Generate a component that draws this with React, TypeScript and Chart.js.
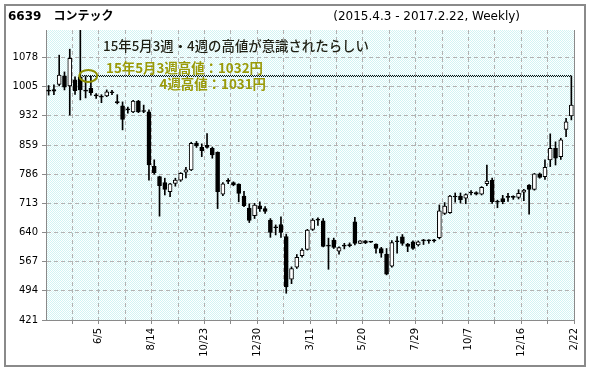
import React, { useEffect, useRef } from 'react';
import { Chart, registerables } from 'chart.js';

Chart.register(...registerables);

// ---- texts ----
const TITLE = '6639　コンテック';
const PERIOD = '(2015.4.3 - 2017.2.22, Weekly)';
const NOTE_MAIN = '15年5月3週・4週の高値が意識されたらしい';
const NOTE_HIGH3 = '15年5月3週高値：1032円';
const NOTE_HIGH4 = '4週高値：1031円';
const RESIST_PRICE = 1032;
const RESIST_WEEK_A = 7; // 5月3週
const RESIST_WEEK_B = 8; // 5月4週

// ---- weekly OHLC (index 0 = 2015/4/3 week ... 99 = 2017/2/22 week) ----
const opens = [
  996, 998, 1011, 1032, 1007, 1022, 1030, 996, 1001, 984,
  980, 982, 991, 966, 957, 948, 942, 969, 944, 942,
  806, 780, 765, 742, 763, 771, 791, 797, 864, 853,
  858, 851, 841, 736, 769, 765, 761, 731, 701, 682,
  707, 700, 671, 654, 660, 630, 523, 553, 582, 598,
  648, 672, 669, 607, 621, 593, 607, 610, 667, 613,
  619, 617, 611, 600, 586, 556, 618, 629, 611, 617,
  609, 620, 620, 620, 627, 688, 690, 730, 731, 726,
  740, 740, 736, 762, 771, 717, 725, 729, 729, 728,
  741, 759, 748, 787, 780, 822, 851, 830, 898, 932,
];
const highs = [
  1008, 1010, 1084, 1042, 1099, 1030, 1180, 1032, 1031, 988,
  985, 997, 996, 985, 967, 954, 971, 971, 959, 947,
  822, 781, 776, 763, 776, 790, 803, 866, 868, 862,
  888, 854, 842, 765, 775, 767, 762, 743, 712, 713,
  717, 705, 675, 659, 679, 636, 554, 585, 600, 648,
  675, 677, 675, 626, 626, 604, 613, 614, 678, 620,
  620, 618, 612, 603, 600, 620, 630, 635, 613, 619,
  619, 623, 622, 623, 709, 715, 733, 739, 739, 737,
  745, 742, 755, 809, 776, 721, 733, 738, 732, 747,
  748, 760, 788, 789, 822, 887, 867, 876, 926, 1032,
];
const lows = [
  984, 985, 1007, 997, 934, 986, 972, 977, 984, 976,
  965, 980, 985, 962, 897, 939, 940, 940, 940, 771,
  786, 681, 734, 730, 756, 768, 777, 795, 853, 830,
  851, 826, 700, 732, 762, 757, 717, 705, 665, 675,
  693, 688, 628, 634, 628, 488, 512, 550, 578, 596,
  645, 658, 604, 548, 600, 586, 599, 604, 609, 612,
  612, 615, 588, 578, 534, 553, 588, 608, 592, 598,
  606, 610, 613, 616, 624, 685, 688, 716, 714, 712,
  734, 734, 734, 757, 713, 702, 712, 718, 723, 724,
  720, 686, 746, 776, 773, 805, 809, 823, 880, 922,
];
const closes = [
  994, 994, 1034, 1004, 1076, 995, 997, 994, 990, 982,
  979, 992, 990, 965, 923, 947, 969, 942, 943, 809,
  790, 757, 748, 762, 771, 788, 797, 863, 857, 845,
  853, 834, 742, 762, 768, 759, 738, 707, 670, 709,
  699, 693, 640, 652, 640, 504, 550, 578, 596, 646,
  671, 671, 605, 606, 603, 602, 606, 607, 613, 619,
  614, 616, 600, 588, 536, 615, 617, 613, 605, 600,
  617, 619, 619, 619, 694, 706, 731, 729, 722, 735,
  739, 736, 753, 769, 717, 716, 717, 728, 728, 738,
  746, 748, 787, 778, 803, 851, 826, 872, 917, 959,
];

// ---- axis ticks ----
const dateLabels = ['6/5', '8/14', '10/23', '12/30', '3/11', '5/20', '7/29', '10/7', '12/16', '2/22'];
const dateLabelWeeks = [9, 19, 29, 39, 49, 59, 69, 79, 89, 99];
const gridWeeks = [4, 9, 14, 19, 24, 29, 34, 39, 44, 49, 54, 59, 64, 69, 74, 79, 84, 89, 94, 99];
const yTicks = [421, 494, 567, 640, 713, 786, 859, 932, 1005, 1078];
const Y_MIN = 421;
const Y_MAX = 1147;

const FONT = '"DejaVu Sans", Verdana, "Noto Sans CJK JP", sans-serif';
const JP_FONT = '"Noto Sans CJK JP", "DejaVu Sans", sans-serif';

const decorPlugin = {
  id: 'decor',
  beforeDraw(chart: any) {
    const { ctx, chartArea: a } = chart;
    ctx.save();
    ctx.fillStyle = '#ffffff';
    ctx.fillRect(0, 0, chart.width, chart.height);
    const pc = document.createElement('canvas');
    pc.width = 2;
    pc.height = 2;
    const p = pc.getContext('2d')!;
    p.fillStyle = '#ffffff';
    p.fillRect(0, 0, 2, 2);
    p.fillStyle = '#d2f4f4';
    p.fillRect(0, 0, 1, 1);
    p.fillRect(1, 1, 1, 1);
    ctx.fillStyle = ctx.createPattern(pc, 'repeat');
    ctx.fillRect(a.left, a.top, a.right - a.left, a.bottom - a.top);
    ctx.restore();
  },
  afterDatasetsDraw(chart: any) {
    const { ctx, chartArea: a } = chart;
    const xs = chart.scales.x;
    const ys = chart.scales.y;
    ctx.save();
    // dotted resistance line
    const yy = Math.round(ys.getPixelForValue(RESIST_PRICE));
    const x0 = Math.round(xs.getPixelForValue(RESIST_WEEK_A - 0.6));
    const x1 = Math.round(xs.getPixelForValue(99));
    ctx.fillStyle = '#111';
    for (let x = x0; x < x1; x++) {
      ctx.fillRect(x, yy - 1 + (x % 2), 1, 1);
    }
    // ellipse
    ctx.strokeStyle = '#8e8e00';
    ctx.lineWidth = 2;
    ctx.beginPath();
    ctx.ellipse(
      xs.getPixelForValue((RESIST_WEEK_A + RESIST_WEEK_B) / 2),
      ys.getPixelForValue(RESIST_PRICE),
      9, 6, 0, 0, Math.PI * 2
    );
    ctx.stroke();
    // notes
    ctx.textBaseline = 'middle';
    ctx.textAlign = 'left';
    ctx.font = '500 13.4px ' + JP_FONT;
    ctx.fillStyle = '#1e1e12';
    ctx.fillText(NOTE_MAIN, 103, 45.5);
    ctx.font = 'bold 13.4px ' + JP_FONT;
    ctx.fillStyle = '#9a9a08';
    ctx.fillText(NOTE_HIGH3, 106, 67.5);
    ctx.textAlign = 'right';
    ctx.fillText(NOTE_HIGH4, 266, 83.5);
    // right border of plot
    ctx.strokeStyle = '#8a8a8a';
    ctx.lineWidth = 1;
    ctx.beginPath();
    ctx.moveTo(a.right + 0.5, a.top);
    ctx.lineTo(a.right + 0.5, a.bottom);
    ctx.stroke();
    ctx.restore();
  },
  afterDraw(chart: any) {
    const { ctx } = chart;
    ctx.save();
    ctx.strokeStyle = '#8a8a8a';
    ctx.lineWidth = 2;
    ctx.strokeRect(5, 5, 580, 361);
    ctx.fillStyle = '#000';
    ctx.textBaseline = 'alphabetic';
    ctx.textAlign = 'left';
    ctx.font = 'bold 12px ' + FONT;
    ctx.fillText(TITLE, 8, 20);
    ctx.font = '12px ' + FONT;
    ctx.textAlign = 'right';
    ctx.fillText(PERIOD, 520, 20);
    ctx.restore();
  },
};

export default function App() {
  const ref = useRef<HTMLCanvasElement | null>(null);
  useEffect(() => {
    if (!ref.current) return;
    const wicks = highs.map((h, i) => ({ x: i, y: [lows[i], h] }));
    const bodies = opens.map((o, i) => ({ x: i, y: [o, closes[i]] }));
    const bodyColors = opens.map((o, i) => (closes[i] - o >= 3 ? '#ffffff' : '#000000'));
    const gridStyle = {
      color: '#b2b2b2',
      tickColor: '#8a8a8a',
      tickLength: 4,
      lineWidth: 1,
      offset: false,
    };
    const chart = new Chart(ref.current, {
      type: 'bar',
      data: {
        datasets: [
          {
            label: 'wick',
            data: wicks as any,
            backgroundColor: '#000',
            barThickness: 1,
            grouped: false,
            order: 2,
          } as any,
          {
            label: 'body',
            data: bodies as any,
            backgroundColor: bodyColors,
            borderColor: '#000',
            borderWidth: 1,
            borderSkipped: false,
            barThickness: 4,
            minBarLength: 1,
            grouped: false,
            order: 1,
          } as any,
        ],
      },
      options: {
        animation: false,
        responsive: false,
        devicePixelRatio: 1,
        layout: { padding: { left: 0, top: 30, right: 12, bottom: 0 } },
        plugins: { legend: { display: false }, tooltip: { enabled: false }, title: { display: false } },
        scales: {
          x: {
            type: 'linear',
            min: -0.5,
            max: 99.5,
            offset: false,
            afterBuildTicks: (s: any) => {
              s.ticks = gridWeeks.map((w) => ({ value: w + 0.5 }));
            },
            afterFit: (s: any) => {
              s.height = 51;
            },
            ticks: {
              autoSkip: false,
              maxRotation: 90,
              minRotation: 90,
              padding: 4,
              color: '#000',
              font: { family: FONT, size: 10 },
              callback: (v: any) => {
                const k = dateLabelWeeks.indexOf(Math.round(Number(v) - 0.5));
                return k >= 0 ? dateLabels[k] : '';
              },
            },
            grid: gridStyle,
            border: { color: '#8a8a8a', width: 1, dash: [4, 3] },
          },
          y: {
            type: 'linear',
            min: Y_MIN,
            max: Y_MAX,
            beginAtZero: false,
            afterBuildTicks: (s: any) => {
              s.ticks = yTicks.map((v) => ({ value: v }));
            },
            afterFit: (s: any) => {
              s.width = 46;
            },
            ticks: {
              padding: 4,
              color: '#000',
              font: { family: FONT, size: 10 },
              callback: (v: any) => String(v),
            },
            grid: gridStyle,
            border: { color: '#8a8a8a', width: 1, dash: [4, 3] },
          },
        },
      } as any,
      plugins: [decorPlugin],
    });
    return () => chart.destroy();
  }, []);
  return (
    <div style={{ position: 'fixed', left: 0, top: 0, width: 590, height: 371, background: '#fff' }}>
      <canvas ref={ref} width={590} height={371} style={{ display: 'block' }} />
    </div>
  );
}
